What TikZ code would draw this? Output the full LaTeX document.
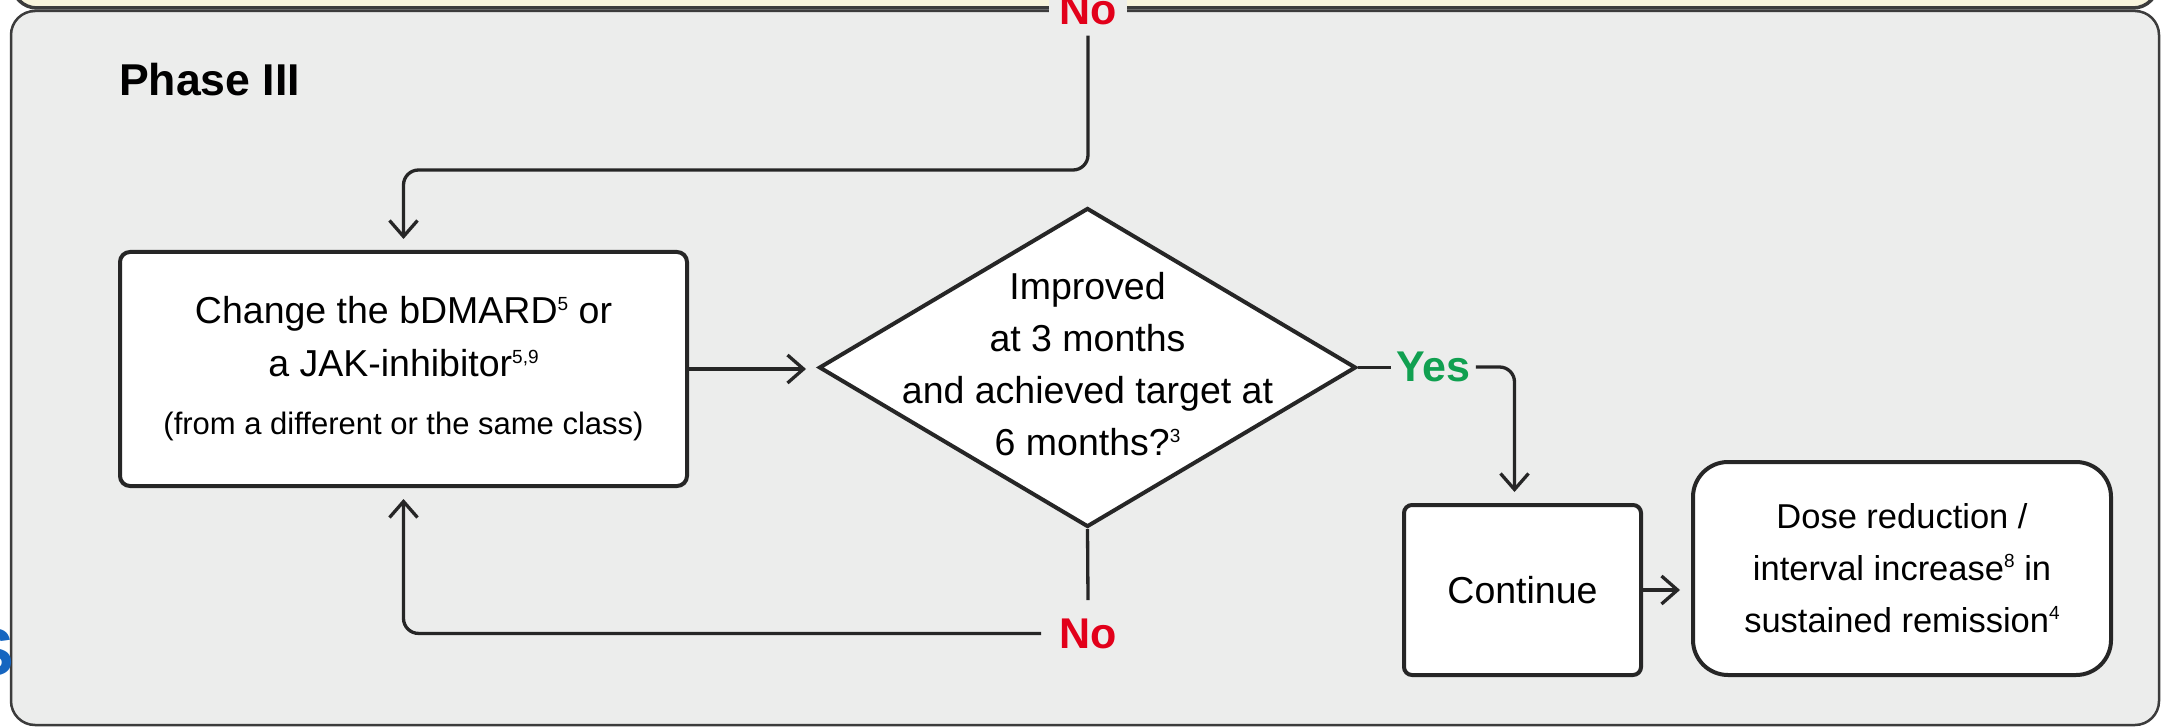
\documentclass[tikz,border=0pt]{standalone}
\usepackage{fontspec}
\setmainfont{Liberation Sans}
\usetikzlibrary{shapes.geometric,arrows.meta}
\definecolor{panelgray}{HTML}{ECEDEC}
\definecolor{cream}{HTML}{F8F4DC}
\definecolor{edge}{HTML}{3C3C3C}
\definecolor{yesgreen}{HTML}{10A050}
\definecolor{nored}{HTML}{E2001A}
\definecolor{fragblue}{HTML}{1565C0}
\newcommand\refsup[1]{\raisebox{13pt}{\fontsize{19}{19}\selectfont #1}}
\tikzset{
  box/.style={draw=black!85, line width=4pt, fill=white, rounded corners=10pt, inner sep=0pt, align=center, font=\fontsize{37.5}{53}\selectfont},
  dia/.style={draw=black!85, line width=4pt, fill=white, shape=diamond, inner sep=0pt, minimum width=537pt, minimum height=319pt},
  qtext/.style={align=center, inner sep=0pt, font=\fontsize{37.5}{52}\selectfont},
  lab/.style={font=\fontsize{43}{43}\selectfont\bfseries, inner sep=5pt},
  arr/.style={draw=black!85, line width=3.3pt, -{Straight Barb[length=16pt,width=28pt]}, shorten >=11pt},
  conn/.style={draw=black!85, line width=3.3pt},
}
\begin{document}
\begin{tikzpicture}[x=1pt,y=-1pt]
\useasboundingbox (0,0) rectangle (2165,727);
\fill[white] (0,0) rectangle (2165,727);
\draw[fill=cream, draw=edge, line width=3.5pt, rounded corners=25pt] (12,-80) rectangle (2158,8);
\draw[fill=panelgray, draw=edge, line width=2.5pt, rounded corners=24pt] (11,11) rectangle (2159,725);

\node[anchor=base west, inner sep=0pt, font=\fontsize{44.6}{44.6}\selectfont\bfseries] (phase) at (119,96) {Phase III};

\node[box, minimum width=567pt, minimum height=234pt] (b1) at (403.5,369)
  {Change the bDMARD\refsup{5} or\\ a JAK-inhibitor\refsup{5,9}\\[5pt] {\fontsize{31}{53}\selectfont (from a different or the same class)}};

\node[dia] (d) at (1087.5,367.5) {};
\node[qtext] (q) at (1087.5,364) {Improved\\at 3 months\\and achieved target at\\6 months?\refsup{3}};

\node[box, rounded corners=8pt, minimum width=237pt, minimum height=170pt] (cont) at (1522.5,590) {Continue};
\node[box, rounded corners=35pt, minimum width=418pt, minimum height=213pt, font=\fontsize{34.5}{52}\selectfont] (dose) at (1902,568.5)
  {Dose reduction /\\interval increase\refsup{8} in\\sustained remission\refsup{4}};

\node[lab, text=nored, fill=panelgray, inner sep=10pt, anchor=base] (noTop) at (1088,25) {No};
\node[lab, text=yesgreen] (yes) at (1433.5,367) {Yes};
\node[lab, text=nored, inner sep=18pt, anchor=base] (noBot) at (1088,648) {No};

\coordinate (c1) at (403.5,170);
\draw[arr, rounded corners=15pt] (noTop.south) |- (c1) -- (b1.north);
\draw[arr] (b1.east) -- (b1.east -| d.west);
\draw[conn] (d.east) -- (d.east -| yes.west);
\draw[arr, rounded corners=15pt] (yes.east) -| ([xshift=-8pt]cont.north);
\draw[arr] (cont.east) -- (cont.east -| dose.west);
\draw[conn] (d.south) -- (noBot.north);
\draw[arr, rounded corners=15pt] (noBot.west) -| (b1.south);

\node[anchor=base east, inner sep=0pt, text=fragblue, font=\fontsize{67}{67}\selectfont\bfseries] (frag) at (14,675) {S};
\end{tikzpicture}
\end{document}
